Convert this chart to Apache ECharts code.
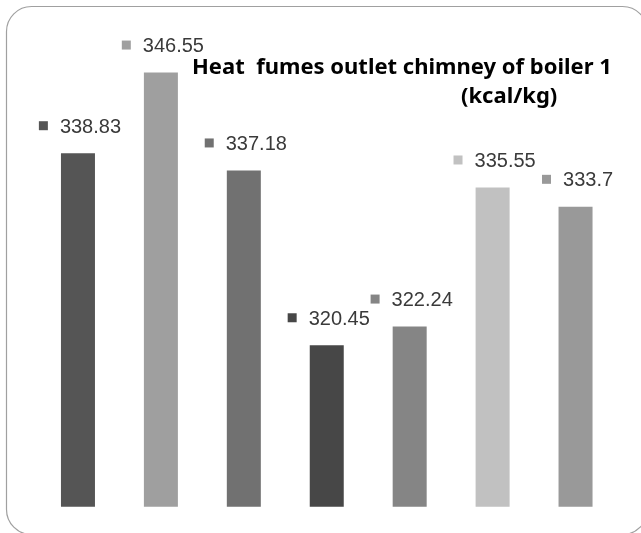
<!DOCTYPE html>
<html>
<head>
<meta charset="utf-8">
<style>
html,body{margin:0;padding:0;background:#fff;}
#chart{width:641px;height:533px;}
</style>
<script src="https://cdn.jsdelivr.net/npm/echarts@6/dist/echarts.min.js"></script>
</head>
<body>
<div id="chart"></div>
<script>
var categories = ['1', '2', '3', '4', '5', '6', '7'];
var values = [338.83, 346.55, 337.18, 320.45, 322.24, 335.55, 333.7];
var barColors = ['#555555', '#9f9f9f', '#717171', '#474747', '#858585', '#c1c1c1', '#999999'];
var titleLine1 = 'Heat  fumes outlet chimney of boiler 1';
var titleLine2 = '(kcal/kg)';

var chart = echarts.init(document.getElementById('chart'), null, {renderer: 'canvas'});
var labelFont = "'Liberation Sans', Arial, sans-serif";
var titleFont = "'Noto Sans', sans-serif";
var data = values.map(function (v, i) {
  return {
    value: v,
    itemStyle: {color: barColors[i]},
    label: {
      rich: {
        m: {width: 9, height: 9, backgroundColor: barColors[i]},
        v: {fontSize: 20, color: '#3a3a3a', fontFamily: labelFont, padding: [3, 0, 0, 12]}
      }
    }
  };
});

chart.setOption({
  animation: false,
  title: [
    {text: titleLine1, left: 187, top: 52, textStyle: {fontSize: 22, fontWeight: 'bold', color: '#000', fontFamily: titleFont}},
    {text: titleLine2, left: 456, top: 81, textStyle: {fontSize: 22, fontWeight: 'bold', color: '#000', fontFamily: titleFont}}
  ],
  graphic: [{
    type: 'rect',
    shape: {x: 6.5, y: 6.5, width: 641, height: 528, r: 25},
    style: {fill: 'none', stroke: '#a0a0a0', lineWidth: 1.2},
    silent: true,
    z: 100
  }],
  grid: {left: 36.5, width: 580.5, top: 36.5, height: 470.2},
  xAxis: {
    type: 'category',
    data: categories,
    axisLine: {show: false},
    axisTick: {show: false},
    axisLabel: {show: false}
  },
  yAxis: {
    type: 'value',
    min: 305,
    max: 350,
    interval: 5,
    axisLine: {show: false},
    axisTick: {show: false},
    axisLabel: {show: false},
    splitLine: {show: false}
  },
  series: [{
    type: 'bar',
    data: data,
    barWidth: 34,
    label: {
      show: true,
      position: 'top',
      distance: 16,
      offset: [2, 0],
      formatter: function (p) { return '{m|}{v|' + p.value + '}'; }
    }
  }]
});
</script>
</body>
</html>
